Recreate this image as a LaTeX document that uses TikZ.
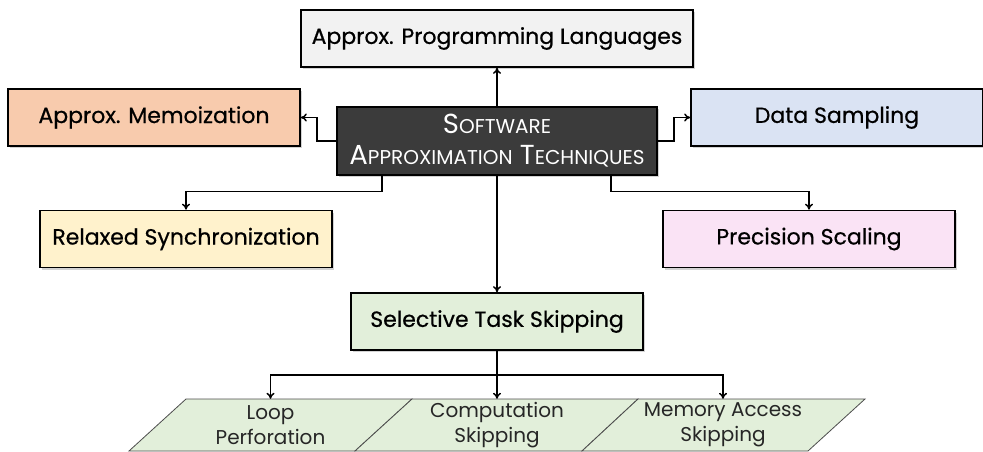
\documentclass[tikz,border=0pt]{standalone}
\usepackage{fontspec}
\setmainfont{Poppins}
\newfontfamily\medfont{Poppins}[FakeBold=0.6]
\usetikzlibrary{shadows,calc,arrows.meta}
\definecolor{cTop}{HTML}{F2F2F2}
\definecolor{cMemo}{HTML}{F8CBAD}
\definecolor{cCenter}{HTML}{3B3B3B}
\definecolor{cData}{HTML}{DAE3F3}
\definecolor{cRelax}{HTML}{FFF2CC}
\definecolor{cPrec}{HTML}{FAE3F5}
\definecolor{cSel}{HTML}{E2EFDA}
\definecolor{cPar}{HTML}{E2EFDA}
\newcommand\mysc[2]{{\fontsize{27.5}{31}\selectfont #1}{\fontsize{20}{31}\selectfont #2}}
\tikzset{
  box/.style={draw=black, line width=1.7pt, minimum width=292pt, minimum height=57pt,
    inner sep=0pt, font=\medfont\fontsize{22}{26}\selectfont,
    drop shadow={shadow xshift=2pt, shadow yshift=-2pt, opacity=0.35, fill=gray}},
  arr/.style={-{To[length=6pt,width=8pt]}, line width=1.5pt},
  partext/.style={minimum width=226pt, minimum height=52pt, inner sep=0pt, align=center,
    font=\fontsize{20}{25}\selectfont, text=black!85},
  parshape/.style={fill=cPar, draw=black!70, line width=0.8pt},
}
\begin{document}
\begin{tikzpicture}[x=1pt,y=-1pt]
\useasboundingbox (0,0) rectangle (983,452);
\node[box, fill=cTop, minimum width=392pt] (top) at (497,38.5) {Approx. Programming Languages};
\node[box, fill=cMemo] (memo) at (154,117.5) {Approx. Memoization};
\node[box, fill=cData] (data) at (837,117.5) {Data Sampling};
\node[box, fill=cRelax] (relax) at (186,239) {Relaxed Synchronization};
\node[box, fill=cPrec] (prec) at (809,239) {Precision Scaling};
\node[box, fill=cSel] (sel) at (497,321.5) {Selective Task Skipping};
\node[box, fill=cCenter, text=white, minimum width=320pt, minimum height=68pt, align=center,
  font=\rmfamily\fontsize{27.5}{31}\selectfont] (c) at (497,141)
  {\mysc{S}{OFTWARE}\\\mysc{A}{PPROXIMATION} \mysc{T}{ECHNIQUES}};
% parallelograms
\draw[parshape] (129,451) -- (186,399) -- (412,399) -- (355,451) -- cycle;
\draw[parshape] (355,451) -- (412,399) -- (638,399) -- (582,451) -- cycle;
\draw[parshape] (582,451) -- (638,399) -- (865,399) -- (808,451) -- cycle;
\node[partext] (lp) at (270.5,425) {Loop\\Perforation};
\node[partext] (cs) at (497,425) {Computation\\Skipping};
\node[partext] (ma) at (723,425) {Memory Access\\Skipping};
% connectors
\draw[arr] (c.north) -- (top.south);
\draw[arr] (c.west) -- ([xshift=-19pt]c.west) |- (memo.east);
\draw[arr] (c.east) -- ([xshift=16pt]c.east) |- (data.west);
\draw[arr] ([xshift=46pt]c.south west) -- ++(0,15.5) -| (relax.north);
\draw[arr] ([xshift=-47pt]c.south east) -- ++(0,15.5) -| (prec.north);
\draw[arr] (c.south) -- (sel.north);
\draw[arr] (sel.south) -- ++(0,24) -| (lp.north);
\draw[arr] (sel.south) -- (cs.north);
\draw[arr] (sel.south) -- ++(0,24) -| (ma.north);
\end{tikzpicture}
\end{document}
